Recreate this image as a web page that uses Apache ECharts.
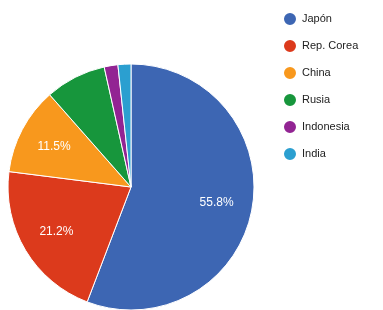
<!DOCTYPE html>
<html>
<head>
<meta charset="utf-8">
<script src="https://cdn.jsdelivr.net/npm/echarts@6/dist/echarts.min.js"></script>
<style>
html, body { margin: 0; padding: 0; background: #fff; }
#chart { width: 383px; height: 310px; }
</style>
</head>
<body>
<div id="chart"></div>
<script>
var paises = ['Japón', 'Rep. Corea', 'China', 'Rusia', 'Indonesia', 'India'];
var porcentajes = [55.8, 21.2, 11.5, 8.0, 1.8, 1.7];
var colores = ['#3d66b3', '#dc3a1c', '#f8981d', '#17963c', '#922493', '#2b9fd0'];

var dom = document.getElementById('chart');
var myChart = echarts.init(dom);

var datos = paises.map(function (p, i) {
    return { name: p, value: porcentajes[i] };
});

// only slices big enough get a text, like the original
var datosTexto = paises.map(function (p, i) {
    return {
        name: p,
        value: porcentajes[i],
        label: { show: porcentajes[i] >= 10 }
    };
});

var option = {
    color: colores,
    animation: false,
    legend: {
        orient: 'vertical',
        left: 277,
        top: 6,
        icon: 'circle',
        itemWidth: 14,
        itemHeight: 14,
        itemGap: 11,
        selectedMode: false,
        data: paises,
        textStyle: {
            fontFamily: 'Liberation Sans',
            fontSize: 11,
            color: '#222'
        }
    },
    series: [
        {
            name: 'pie',
            type: 'pie',
            center: [131, 187],
            radius: [0, 123],
            startAngle: 90,
            clockwise: true,
            silent: true,
            data: datos,
            label: { show: false },
            labelLine: { show: false },
            itemStyle: {
                borderColor: '#fff',
                borderWidth: 1
            }
        },
        {
            // transparent ring, used only to place the percent texts
            name: 'texto',
            type: 'pie',
            center: [131, 187],
            radius: [45, 123],
            startAngle: 90,
            clockwise: true,
            silent: true,
            data: datosTexto,
            itemStyle: { color: 'rgba(0,0,0,0)' },
            labelLine: { show: false },
            label: {
                position: 'inside',
                formatter: function (p) { return p.value.toFixed(1) + '%'; },
                color: '#fff',
                fontFamily: 'Liberation Sans',
                fontSize: 12
            }
        }
    ]
};
myChart.setOption(option);
</script>
</body>
</html>
